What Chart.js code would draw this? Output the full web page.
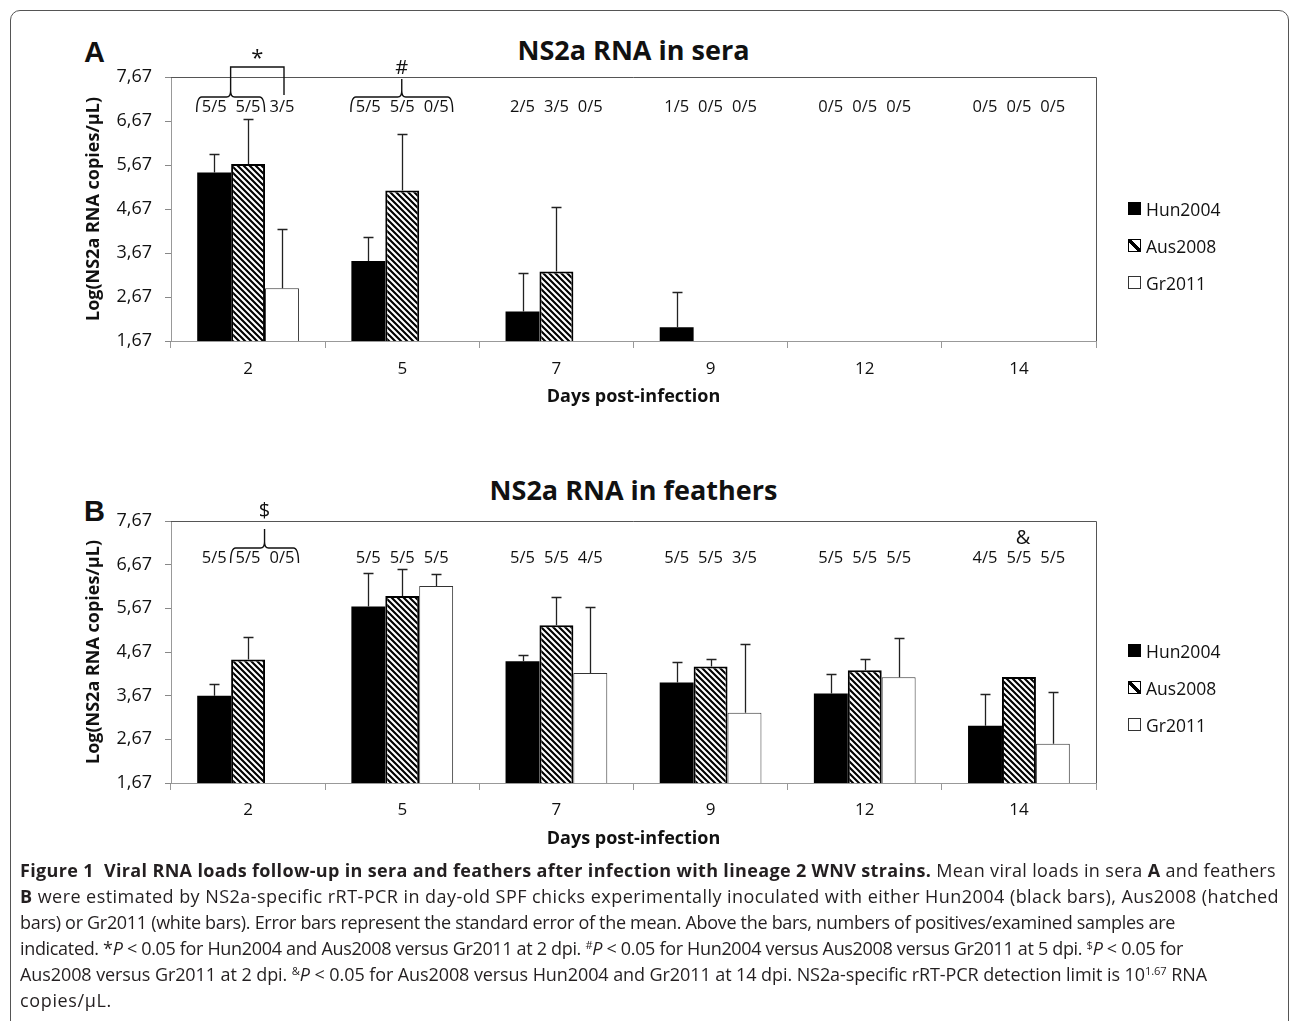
<!DOCTYPE html>
<html><head><meta charset="utf-8">
<script src="https://cdn.jsdelivr.net/npm/chart.js@4.4.1/dist/chart.umd.min.js"></script>
<style>
html,body{margin:0;padding:0;background:#fff;}
body{width:1295px;height:1021px;position:relative;overflow:hidden;font-family:'Open Sans',sans-serif;color:#111;}
#frame{position:absolute;left:10px;top:10px;width:1279px;height:1060px;border:1px solid #555;border-radius:10px;box-sizing:border-box;}
.panel{position:absolute;left:84px;font:bold 29px 'Liberation Sans',Arial,sans-serif;line-height:30px;}
.ctitle{position:absolute;left:171px;width:925px;text-align:center;font:bold 27px 'Open Sans',sans-serif;line-height:30px;}
canvas{position:absolute;left:0;}
.legend{position:absolute;left:1128px;font:17.5px 'Open Sans',sans-serif;color:#111;}
.legend div{height:37px;display:flex;align-items:center;white-space:nowrap;}
.sw{width:13px;height:13px;box-sizing:border-box;margin-right:5px;display:inline-block;}
.sw.h{background:#000;}
.sw.a{border:1.5px solid #000;background:linear-gradient(45deg,#fff 38%,#000 38%,#000 62%,#fff 62%);}
.sw.g{border:1px solid #333;background:#fff;}
#caption{position:absolute;left:20px;top:857px;font:18px 'Open Sans',sans-serif;line-height:26px;color:#231f20;}
#caption .ln{white-space:nowrap;}
#caption sup{font-size:0.62em;line-height:0;vertical-align:0.55em;}
</style>
</head><body>
<div id="frame"></div>
<div class="panel" style="top:37px">A</div>
<div class="panel" style="top:496px">B</div>
<div class="ctitle" style="top:35px">NS2a RNA in sera</div>
<div class="ctitle" style="top:475px">NS2a RNA in feathers</div>
<canvas id="cA" width="1295" height="420" style="top:0"></canvas>
<canvas id="cB" width="1295" height="420" style="top:440px"></canvas>
<div class="legend" style="top:190px">
  <div><span class="sw h"></span>Hun2004</div>
  <div><span class="sw a"></span>Aus2008</div>
  <div><span class="sw g"></span>Gr2011</div>
</div>
<div class="legend" style="top:632px">
  <div><span class="sw h"></span>Hun2004</div>
  <div><span class="sw a"></span>Aus2008</div>
  <div><span class="sw g"></span>Gr2011</div>
</div>
<div id="caption">
<div class="ln"><b>Figure 1&nbsp;&nbsp;Viral RNA loads follow-up in sera and feathers after infection with lineage 2 WNV strains.</b> Mean viral loads in sera <b>A</b> and feathers</div>
<div class="ln"><b>B</b> were estimated by NS2a-specific rRT-PCR in day-old SPF chicks experimentally inoculated with either Hun2004 (black bars), Aus2008 (hatched</div>
<div class="ln">bars) or Gr2011 (white bars). Error bars represent the standard error of the mean. Above the bars, numbers of positives/examined samples are</div>
<div class="ln">indicated. *<i>P</i> &lt; 0.05 for Hun2004 and Aus2008 versus Gr2011 at 2 dpi. <sup>#</sup><i>P</i> &lt; 0.05 for Hun2004 versus Aus2008 versus Gr2011 at 5 dpi. <sup>$</sup><i>P</i> &lt; 0.05 for</div>
<div class="ln">Aus2008 versus Gr2011 at 2 dpi. <sup>&amp;</sup><i>P</i> &lt; 0.05 for Aus2008 versus Hun2004 and Gr2011 at 14 dpi. NS2a-specific rRT-PCR detection limit is 10<sup>1.67</sup> RNA</div>
<div class="ln">copies/µL.</div>
</div>
<script>
// ---------- data ----------
const days = ['2', '5', '7', '9', '12', '14'];
const seriesNames = ['Hun2004', 'Aus2008', 'Gr2011'];
const yTickValues = [1.67, 2.67, 3.67, 4.67, 5.67, 6.67, 7.67];
const yTickLabels = ['1,67', '2,67', '3,67', '4,67', '5,67', '6,67', '7,67'];

const seraHun = [5.50, 3.49, 2.34, 1.98, 1.67, 1.67];
const seraAus = [5.69, 5.09, 3.25, 1.67, 1.67, 1.67];
const seraGr  = [2.87, 1.67, 1.67, 1.67, 1.67, 1.67];
const seraHunErr = [0.41, 0.54, 0.88, 0.80, 0, 0];
const seraAusErr = [1.03, 1.28, 1.47, 0, 0, 0];
const seraGrErr  = [1.35, 0, 0, 0, 0, 0];
const seraCounts = [['5/5','5/5','3/5'],['5/5','5/5','0/5'],['2/5','3/5','0/5'],['1/5','0/5','0/5'],['0/5','0/5','0/5'],['0/5','0/5','0/5']];
const seraSignif = [{day:'2', brace:[0,1], vs:2, mark:'*'}, {day:'5', brace:[0,2], mark:'#'}];

const featHun = [3.67, 5.71, 4.46, 3.97, 3.72, 2.98];
const featAus = [4.50, 5.95, 5.28, 4.34, 4.25, 4.10];
const featGr  = [1.67, 6.18, 4.19, 3.28, 4.09, 2.57];
const featHunErr = [0.26, 0.77, 0.14, 0.48, 0.45, 0.73];
const featAusErr = [0.52, 0.63, 0.64, 0.16, 0.25, 0];
const featGrErr  = [0, 0.28, 1.51, 1.57, 0.91, 1.19];
const featCounts = [['5/5','5/5','0/5'],['5/5','5/5','5/5'],['5/5','5/5','4/5'],['5/5','5/5','3/5'],['5/5','5/5','5/5'],['4/5','5/5','5/5']];
const featSignif = [{day:'2', brace:[1,2], mark:'$'}, {day:'14', brace:[1,1], mark:'&'}];

// ---------- styling helpers ----------
const tile = document.createElement('canvas');
tile.width = tile.height = 6;
(function(){
  const t = tile.getContext('2d');
  t.fillStyle = '#fff'; t.fillRect(0,0,6,6);
  t.strokeStyle = '#000'; t.lineWidth = 2.1; t.lineCap = 'square';
  t.beginPath();
  t.moveTo(-1,-1); t.lineTo(7,7);
  t.moveTo(-4,2); t.lineTo(4,10);
  t.moveTo(2,-4); t.lineTo(10,4);
  t.stroke();
})();
const hatchCache = new WeakMap();
function hatchFor(c){
  const ctx = c.chart.ctx;
  if (!hatchCache.has(ctx)) hatchCache.set(ctx, ctx.createPattern(tile,'repeat'));
  return hatchCache.get(ctx);
}

const overlay = {
  id: 'overlay',
  afterDatasetsDraw(chart, args, o) {
    const ctx = chart.ctx, ys = chart.scales.y, a = chart.chartArea;
    ctx.save();
    // plot frame (top & right)
    ctx.strokeStyle = '#555'; ctx.lineWidth = 1;
    ctx.beginPath();
    ctx.moveTo(a.left, Math.round(a.top)+0.5);
    ctx.lineTo(Math.round(a.right)+0.5, Math.round(a.top)+0.5);
    ctx.lineTo(Math.round(a.right)+0.5, a.bottom);
    ctx.stroke();
    // error bars
    ctx.strokeStyle = '#222'; ctx.lineWidth = 1.3;
    o.errors.forEach((errs, di) => {
      const meta = chart.getDatasetMeta(di);
      meta.data.forEach((bar, i) => {
        const e = errs[i];
        if (!e) return;
        const v = chart.data.datasets[di].data[i];
        const yt = Math.round(ys.getPixelForValue(v + e)) + 0.5;
        const x = Math.round(bar.x) + 0.5;
        ctx.beginPath();
        ctx.moveTo(x, bar.y); ctx.lineTo(x, yt);
        ctx.moveTo(x - 5, yt); ctx.lineTo(x + 5, yt);
        ctx.stroke();
      });
    });
    // counts
    const labelY = a.top + o.countOffset;
    const countFont = '16.5px "Open Sans", sans-serif';
    ctx.fillStyle = '#111';
    ctx.font = countFont;
    ctx.textAlign = 'center'; ctx.textBaseline = 'middle';
    const xs = (ci, si) => chart.getDatasetMeta(si).data[ci].x;
    o.counts.forEach((row, ci) => row.forEach((t, si) => ctx.fillText(t, xs(ci, si), labelY)));
    // significance marks
    ctx.strokeStyle = '#111'; ctx.lineWidth = 1.4;
    o.signif.forEach(s => {
      const ci = chart.data.labels.indexOf(s.day);
      const [g0, g1] = s.brace;
      const markFont = '20px "Open Sans", sans-serif';
      if (g0 === g1) {
        ctx.font = markFont;
        ctx.fillText(s.mark, xs(ci, g0) + 4, labelY - 20);
        return;
      }
      ctx.font = countFont;
      const half = ctx.measureText(o.counts[ci][g0]).width / 2;
      const xl = xs(ci, g0) - half - 5, xr = xs(ci, g1) + half + 4;
      const xc = (xl + xr) / 2;
      const yb = labelY - 10;
      ctx.beginPath();
      ctx.moveTo(xl, labelY + 5);
      ctx.quadraticCurveTo(xl, yb, xl + 5, yb);
      ctx.lineTo(xc - 4, yb);
      ctx.quadraticCurveTo(xc, yb, xc, yb - 6);
      ctx.quadraticCurveTo(xc, yb, xc + 4, yb);
      ctx.lineTo(xr - 5, yb);
      ctx.quadraticCurveTo(xr, yb, xr, labelY + 5);
      ctx.stroke();
      ctx.font = markFont;
      if (s.vs !== undefined) {
        const xv = xs(ci, s.vs) + 2;
        const yt = labelY - 40;
        ctx.beginPath();
        ctx.moveTo(xc, yb - 6); ctx.lineTo(xc, yt); ctx.lineTo(xv, yt); ctx.lineTo(xv, labelY - 12);
        ctx.stroke();
        ctx.font = '22px "Open Sans", sans-serif';
        ctx.fillText(s.mark, (xc + xv) / 2, yt - 8);
      } else {
        const top = labelY - o.cuspRise;
        ctx.beginPath();
        ctx.moveTo(xc, yb - 6); ctx.lineTo(xc, top);
        ctx.stroke();
        ctx.fillText(s.mark, xc, top - o.markGap);
      }
    });
    ctx.restore();
  }
};

function makeChart(id, vals, errs, counts, signif, opt) {
  const tickFont = {family: '"Open Sans", sans-serif', size: 18};
  const titleFont = {family: '"Open Sans", sans-serif', size: 18, weight: 'bold'};
  return new Chart(document.getElementById(id), {
    type: 'bar',
    data: {
      labels: days,
      datasets: [
        {label: seriesNames[0], data: vals[0], backgroundColor: '#000', borderWidth: 0},
        {label: seriesNames[1], data: vals[1], backgroundColor: hatchFor, borderColor: '#000', borderWidth: 2},
        {label: seriesNames[2], data: vals[2], backgroundColor: '#fff', borderColor: '#333', borderWidth: 1}
      ]
    },
    options: {
      responsive: false, maintainAspectRatio: false, animation: false, devicePixelRatio: 1,
      datasets: {bar: {categoryPercentage: 0.66, barPercentage: 1.0, minBarLength: 2}},
      layout: {padding: {top: opt.top, right: 199, bottom: 0, left: 0}},
      plugins: {
        legend: {display: false}, tooltip: {enabled: false}, title: {display: false},
        overlay: {errors: errs, counts: counts, signif: signif, countOffset: opt.countOffset, cuspRise: opt.cuspRise, markGap: opt.markGap}
      },
      scales: {
        x: {
          grid: {display: true, drawOnChartArea: false, drawTicks: true, tickLength: 7, offset: true, color: '#999'},
          border: {display: true, color: '#999', width: 1},
          ticks: {font: {family: '"Open Sans", sans-serif', size: 17}, color: '#111', padding: opt.xPad},
          title: {display: true, text: 'Days post-infection', font: titleFont, color: '#111', padding: {top: 0, bottom: opt.xTitlePad}},
          afterFit: s => { s.height = opt.xHeight; }
        },
        y: {
          min: 1.67, max: 7.67,
          afterBuildTicks: s => { s.ticks = yTickValues.map(v => ({value: v})); },
          grid: {display: true, drawOnChartArea: false, drawTicks: true, tickLength: 6, color: '#888'},
          border: {display: true, color: '#999', width: 1},
          ticks: {font: tickFont, color: '#111', padding: 13, callback: v => yTickLabels[yTickValues.indexOf(v)]},
          title: {display: true, text: 'Log(NS2a RNA copies/µL)', font: titleFont, color: '#111', padding: {top: 83, bottom: 0}},
          afterFit: s => { s.width = 171; }
        }
      }
    },
    plugins: [overlay]
  });
}

makeChart('cA', [seraHun, seraAus, seraGr], [seraHunErr, seraAusErr, seraGrErr], seraCounts, seraSignif,
  {top: 77, xHeight: 79, xPad: 11, xTitlePad: 12, countOffset: 30, cuspRise: 28, markGap: 11});
makeChart('cB', [featHun, featAus, featGr], [featHunErr, featAusErr, featGrErr], featCounts, featSignif,
  {top: 81, xHeight: 77, xPad: 10, xTitlePad: 10, countOffset: 37, cuspRise: 29, markGap: 18});

// caption line fitting
const capTargets = [1256, 1259, 1155, 1163, 1187, 92];
document.querySelectorAll('#caption .ln').forEach((el, i) => {
  el.style.display = 'inline-block';
  const w = el.getBoundingClientRect().width;
  const n = el.textContent.length;
  el.style.letterSpacing = ((capTargets[i] - w) / n).toFixed(3) + 'px';
  el.style.display = 'block';
});
</script>
</body></html>
